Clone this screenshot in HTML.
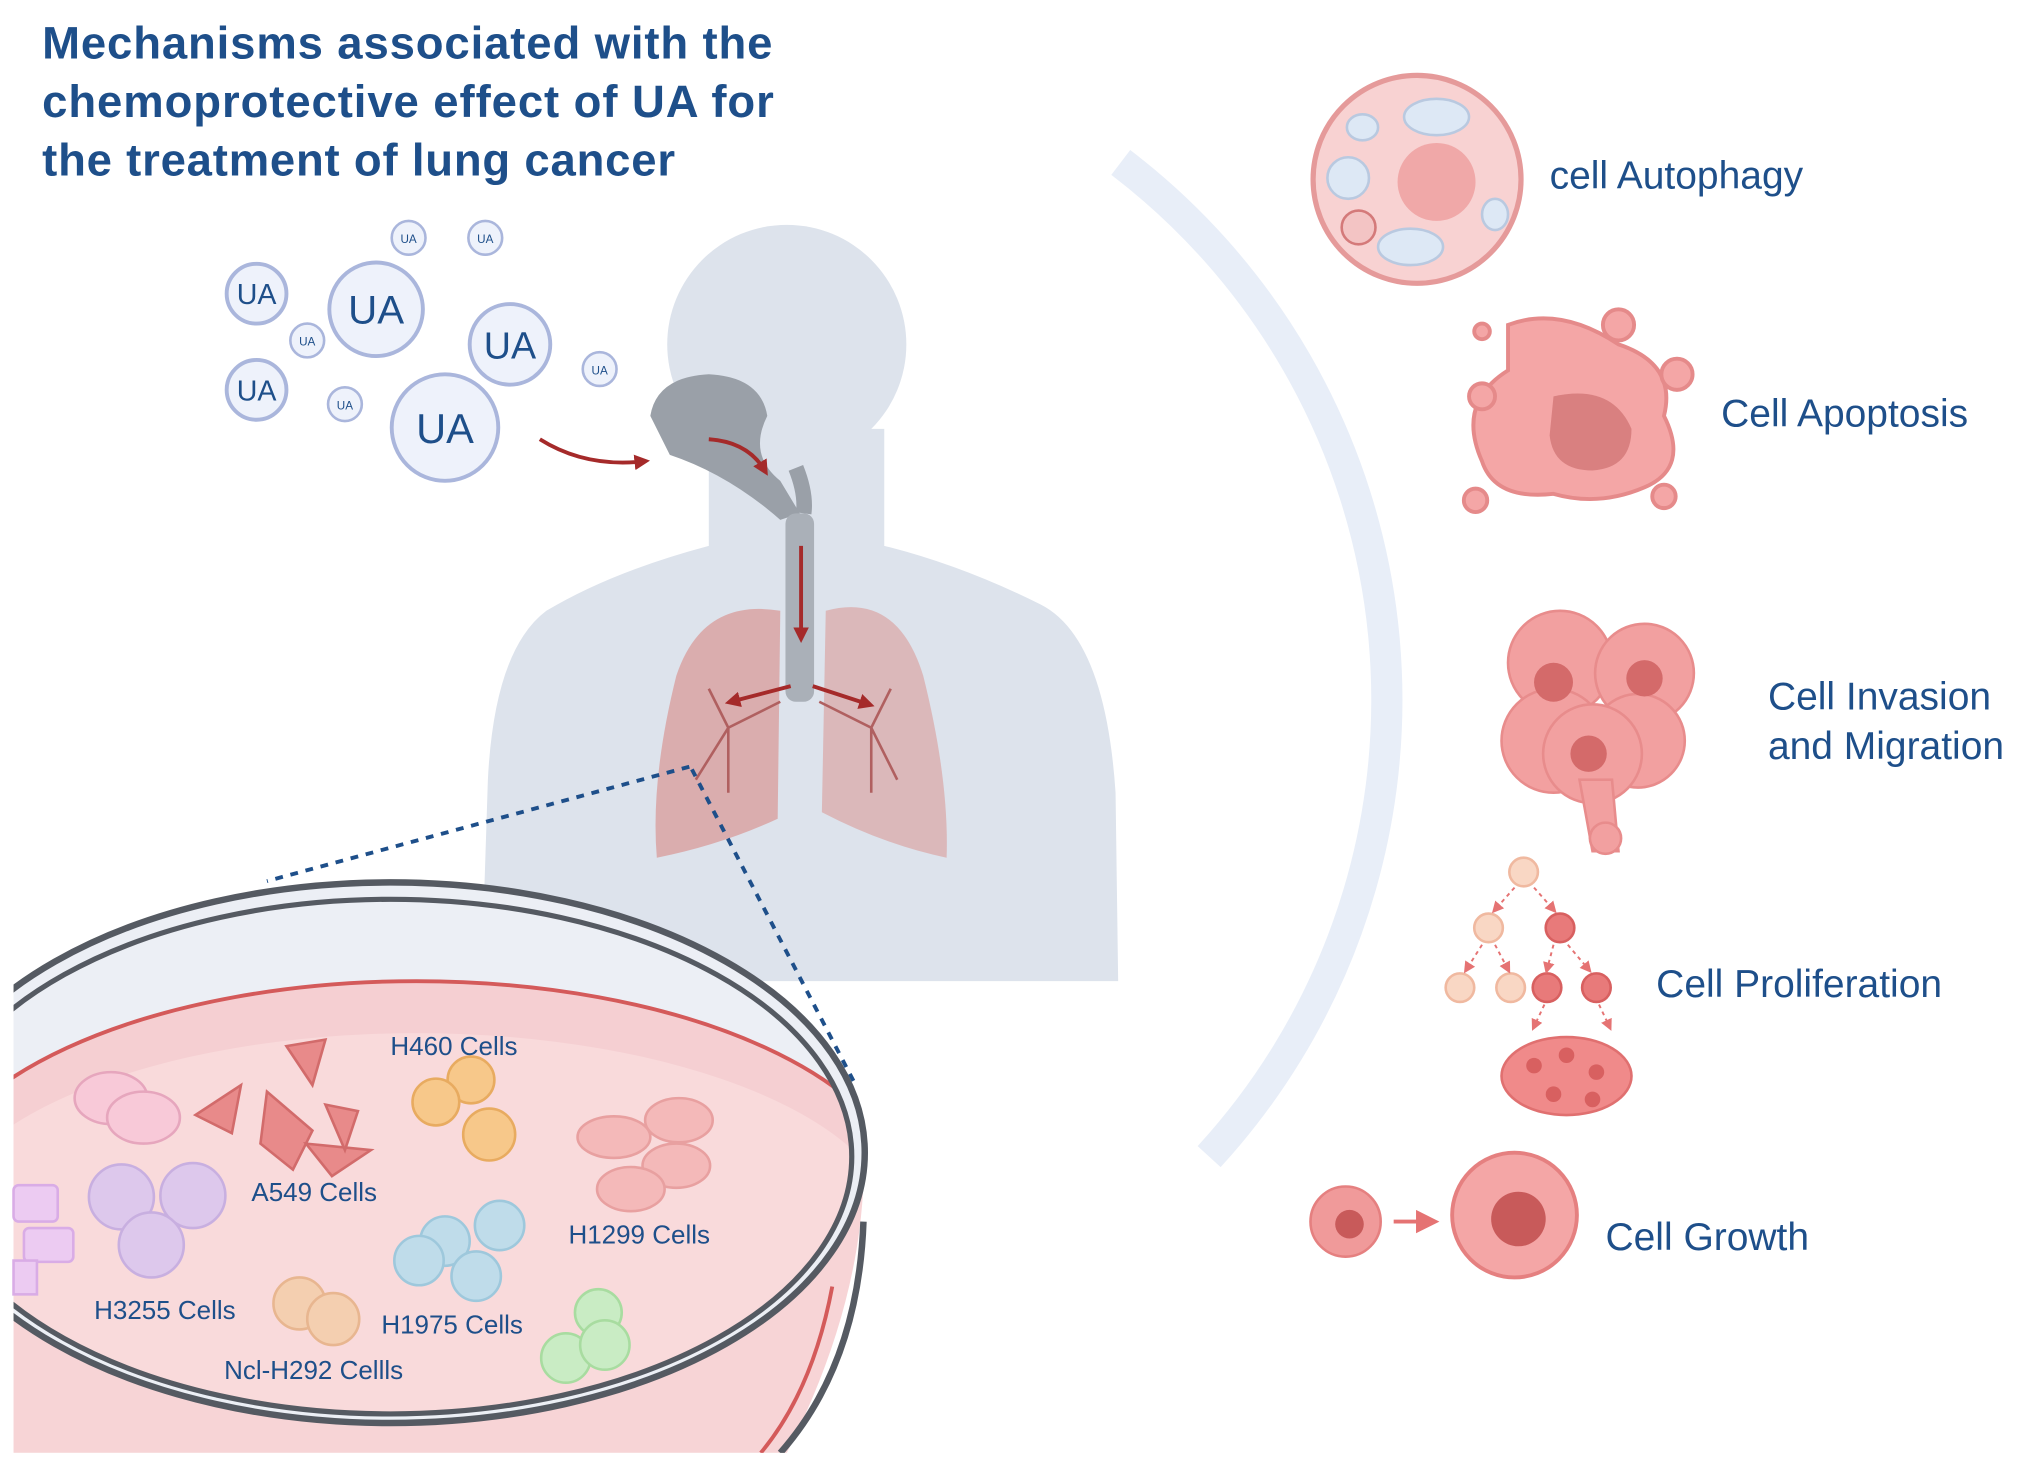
<!DOCTYPE html>
<html><head><meta charset="utf-8"><style>
html,body{margin:0;padding:0;background:#fff;width:2031px;height:1462px;overflow:hidden}
svg{display:block}
text{font-family:"Liberation Sans",sans-serif}
</style></head><body>
<svg width="2031" height="1462" viewBox="0 0 1562 1125" xmlns="http://www.w3.org/2000/svg">
<defs>
<clipPath id="pg"><rect x="10" y="0" width="1552" height="1118"/></clipPath>
<clipPath id="lid"><ellipse cx="300" cy="890" rx="355" ry="198"/></clipPath>
<marker id="ar" viewBox="0 0 10 10" refX="6" refY="5" markerWidth="4" markerHeight="4" orient="auto"><path d="M0,0L10,5L0,10z" fill="#a52a2a"/></marker>
<marker id="ar2" viewBox="0 0 10 10" refX="6" refY="5" markerWidth="6" markerHeight="6" orient="auto"><path d="M0,0L10,5L0,10z" fill="#e57373"/></marker>
</defs>
<g font-weight="bold" font-size="35" fill="#1e4f8a">
<text x="32" y="45" textLength="562">Mechanisms associated with the</text>
<text x="32" y="90" textLength="563">chemoprotective effect of UA for</text>
<text x="32" y="135" textLength="487">the treatment of lung cancer</text>
</g>
<path d="M862,125 A520,520 0 0 1 930,890" fill="none" stroke="#e8eef8" stroke-width="24"/>
<g fill="#dde3ec">
<circle cx="605" cy="265" r="92"/>
<path d="M545,330 L545,420 Q470,440 420,470 Q380,500 375,600 L370,755 L860,755 L858,610 Q850,490 800,465 Q740,435 680,420 L680,330 Z"/>
</g>
<path d="M500,320 Q505,290 545,288 Q585,290 590,320 Q575,350 600,370 L615,395 L600,400 Q560,365 515,350 Z" fill="#9aa0a8"/>
<rect x="604" y="395" width="22" height="145" rx="8" fill="#aab0b8"/>
<path d="M612,360 Q620,380 618,395" stroke="#9aa0a8" stroke-width="12" fill="none"/>
<path d="M600,470 Q540,460 520,520 Q500,600 505,660 Q555,650 598,630 Z" fill="#d9a3a3" opacity="0.85"/>
<path d="M635,470 Q690,455 710,520 Q730,600 728,660 Q680,650 632,625 Z" fill="#d9a9a9" opacity="0.75"/>
<g stroke="#b06060" stroke-width="2" fill="none">
<path d="M600,540 L560,560 L535,600 M560,560 L545,530 M560,560 L560,610"/>
<path d="M630,540 L670,560 L690,600 M670,560 L685,530 M670,560 L670,610"/>
</g>
<g stroke="#a52a2a" stroke-width="3" fill="none" marker-end="url(#ar)">
<path d="M415,338 Q450,360 495,355"/>
<path d="M545,338 Q575,340 588,362"/>
<path d="M616,420 L616,490"/>
<path d="M608,528 L562,540"/>
<path d="M625,528 L668,542"/>
</g>
<g fill="#eef2fb" stroke="#aab6dc" stroke-width="3">
<circle cx="197" cy="226" r="23"/><circle cx="289" cy="238" r="36"/><circle cx="392" cy="265" r="31"/>
<circle cx="197" cy="300" r="23"/><circle cx="342" cy="329" r="41"/>
<circle cx="314" cy="183" r="13" stroke-width="2"/><circle cx="373" cy="183" r="13" stroke-width="2"/>
<circle cx="236" cy="262" r="13" stroke-width="2"/><circle cx="265" cy="311" r="13" stroke-width="2"/><circle cx="461" cy="284" r="13" stroke-width="2"/>
</g>
<g fill="#1e4f8a" text-anchor="middle">
<text x="197" y="234" font-size="22">UA</text><text x="289" y="249" font-size="31">UA</text><text x="392" y="276" font-size="29">UA</text>
<text x="197" y="308" font-size="22">UA</text><text x="342" y="341" font-size="32">UA</text>
<g font-size="9"><text x="314" y="187">UA</text><text x="373" y="187">UA</text><text x="236" y="266">UA</text><text x="265" y="315">UA</text><text x="461" y="288">UA</text></g>
</g>
<g stroke="#1e4f8a" stroke-width="3" stroke-dasharray="6,6" fill="none">
<path d="M530,590 L205,678"/><path d="M532,592 L658,835"/>
</g>
<g clip-path="url(#pg)">
<path d="M-80,900 L-80,1118 L605,1118 Q660,1010 664,910 L300,900 Z" fill="#f7d4d6"/>
<path d="M640,990 Q625,1070 585,1118" stroke="#d45a5a" stroke-width="3" fill="none"/>
<path d="M664,940 Q660,1050 600,1118" stroke="#555a62" stroke-width="5" fill="none"/>
<ellipse cx="300" cy="887" rx="365" ry="208" fill="#eceff5" stroke="#555a62" stroke-width="5"/>
<g clip-path="url(#lid)">
<rect x="-100" y="650" width="800" height="500" fill="#eceff5"/>
<ellipse cx="320" cy="930" rx="380" ry="175" fill="#f5cfd2" stroke="#d45a5a" stroke-width="3"/>
<ellipse cx="320" cy="950" rx="370" ry="155" fill="#f9dadb"/>
</g>
<ellipse cx="300" cy="890" rx="355" ry="198" fill="none" stroke="#555a62" stroke-width="4"/>
</g>
<g stroke-width="2">
<g fill="#f8c9d8" stroke="#e6a6bd"><ellipse cx="85" cy="845" rx="28" ry="20"/><ellipse cx="110" cy="860" rx="28" ry="20"/></g>
<g fill="#e88a8a" stroke="#d26b6b"><path d="M150,858 L185,835 L178,872 Z"/><path d="M205,840 L240,870 L225,900 L200,880 Z"/><path d="M220,805 L250,800 L240,835 Z"/><path d="M235,880 L285,885 L255,905 Z"/><path d="M250,850 L275,855 L265,885Z"/></g>
<g fill="#f7c88a" stroke="#e8ab60"><circle cx="362" cy="831" r="18"/><circle cx="335" cy="848" r="18"/><circle cx="376" cy="873" r="20"/></g>
<g fill="#f4b9b9" stroke="#e8a0a0"><ellipse cx="472" cy="875" rx="28" ry="16"/><ellipse cx="522" cy="862" rx="26" ry="17"/><ellipse cx="520" cy="897" rx="26" ry="17"/><ellipse cx="485" cy="915" rx="26" ry="17"/></g>
<g fill="#ddc8ec" stroke="#c8afe0"><circle cx="93" cy="921" r="25"/><circle cx="148" cy="920" r="25"/><circle cx="116" cy="958" r="25"/></g>
<g fill="#eccbf2" stroke="#d9ace6"><rect x="10" y="912" width="34" height="28" rx="4"/><rect x="18" y="945" width="38" height="26" rx="4"/><rect x="10" y="970" width="18" height="26"/></g>
<g fill="#bfdcea" stroke="#9ec8dc"><circle cx="342" cy="955" r="19"/><circle cx="384" cy="943" r="19"/><circle cx="322" cy="970" r="19"/><circle cx="366" cy="982" r="19"/></g>
<g fill="#f4cfb0" stroke="#e8b690"><circle cx="230" cy="1003" r="20"/><circle cx="256" cy="1015" r="20"/></g>
<g fill="#c9ecc4" stroke="#a8dca0"><circle cx="460" cy="1010" r="18"/><circle cx="435" cy="1045" r="19"/><circle cx="465" cy="1035" r="19"/></g>
</g>
<g fill="#1e4f8a" font-size="20">
<text x="300" y="812">H460 Cells</text><text x="193" y="924">A549 Cells</text><text x="437" y="957">H1299 Cells</text>
<text x="72" y="1015">H3255 Cells</text><text x="293" y="1026">H1975 Cells</text><text x="172" y="1061">Ncl-H292 Cellls</text>
</g>
<g>
<circle cx="1090" cy="138" r="80" fill="#f8d2d2" stroke="#e59a9a" stroke-width="4"/>
<circle cx="1105" cy="140" r="30" fill="#f0a8a8"/>
<g fill="#dde8f5" stroke="#b9c9e0" stroke-width="2"><ellipse cx="1105" cy="90" rx="25" ry="14"/><ellipse cx="1085" cy="190" rx="25" ry="14"/><ellipse cx="1048" cy="98" rx="12" ry="10"/><ellipse cx="1150" cy="165" rx="10" ry="12"/><circle cx="1037" cy="137" r="16"/></g>
<circle cx="1045" cy="175" r="13" fill="#f3c4c4" stroke="#d47a7a" stroke-width="2"/>
<path d="M1160,250 Q1200,235 1245,265 Q1290,280 1280,320 Q1300,360 1265,375 Q1230,390 1195,380 Q1150,385 1140,355 Q1120,310 1160,285 Z" fill="#f4a6a6" stroke="#e58a8a" stroke-width="3"/>
<path d="M1195,305 Q1240,295 1255,330 Q1255,360 1225,362 Q1195,362 1192,335 Z" fill="#d98080"/>
<g fill="#f4a6a6" stroke="#e58a8a" stroke-width="3"><circle cx="1140" cy="305" r="10"/><circle cx="1245" cy="250" r="12"/><circle cx="1290" cy="288" r="12"/><circle cx="1135" cy="385" r="9"/><circle cx="1280" cy="382" r="9"/><circle cx="1140" cy="255" r="6"/></g>
<g fill="#f2a0a0" stroke="#e88c8c" stroke-width="2"><circle cx="1200" cy="510" r="40"/><circle cx="1265" cy="518" r="38"/><circle cx="1195" cy="570" r="40"/><circle cx="1260" cy="570" r="36"/><circle cx="1225" cy="580" r="38"/><path d="M1215,600 L1240,600 L1245,655 L1225,655Z"/><circle cx="1235" cy="645" r="12"/></g>
<g fill="#d46a6a"><circle cx="1195" cy="525" r="15"/><circle cx="1265" cy="522" r="14"/><circle cx="1222" cy="580" r="14"/></g>
<g fill="#f9d7c4" stroke="#f0b9a0" stroke-width="2"><circle cx="1172" cy="671" r="11"/><circle cx="1145" cy="714" r="11"/><circle cx="1123" cy="760" r="11"/><circle cx="1162" cy="760" r="11"/></g>
<g fill="#e87a7a" stroke="#d86060" stroke-width="2"><circle cx="1200" cy="714" r="11"/><circle cx="1190" cy="760" r="11"/><circle cx="1228" cy="760" r="11"/></g>
<g stroke="#e57373" stroke-width="1.5" stroke-dasharray="3,3" fill="none" marker-end="url(#ar2)"><path d="M1165,683 L1150,700"/><path d="M1180,683 L1195,700"/><path d="M1140,727 L1128,746"/><path d="M1150,727 L1160,746"/><path d="M1195,727 L1190,746"/><path d="M1206,727 L1222,746"/><path d="M1188,773 L1180,790"/><path d="M1230,773 L1238,790"/></g>
<ellipse cx="1205" cy="828" rx="50" ry="30" fill="#f08a8a" stroke="#e07070" stroke-width="2"/>
<g fill="#d86060"><circle cx="1180" cy="820" r="6"/><circle cx="1205" cy="812" r="6"/><circle cx="1228" cy="825" r="6"/><circle cx="1195" cy="842" r="6"/><circle cx="1225" cy="846" r="6"/></g>
<circle cx="1035" cy="940" r="27" fill="#f09a9a" stroke="#e58080" stroke-width="2"/><circle cx="1038" cy="942" r="11" fill="#c85a5a"/>
<path d="M1072,940 L1100,940" stroke="#e57373" stroke-width="3" marker-end="url(#ar2)"/>
<circle cx="1165" cy="935" r="48" fill="#f4a6a6" stroke="#e58080" stroke-width="3"/><circle cx="1168" cy="938" r="21" fill="#c85a5a"/>
</g>
<g fill="#1e4f8a" font-size="30">
<text x="1192" y="145">cell Autophagy</text><text x="1324" y="328">Cell Apoptosis</text>
<text x="1360" y="546">Cell Invasion</text><text x="1360" y="584">and Migration</text>
<text x="1274" y="767">Cell Proliferation</text><text x="1235" y="962">Cell Growth</text>
</g>
</svg>
</body></html>
